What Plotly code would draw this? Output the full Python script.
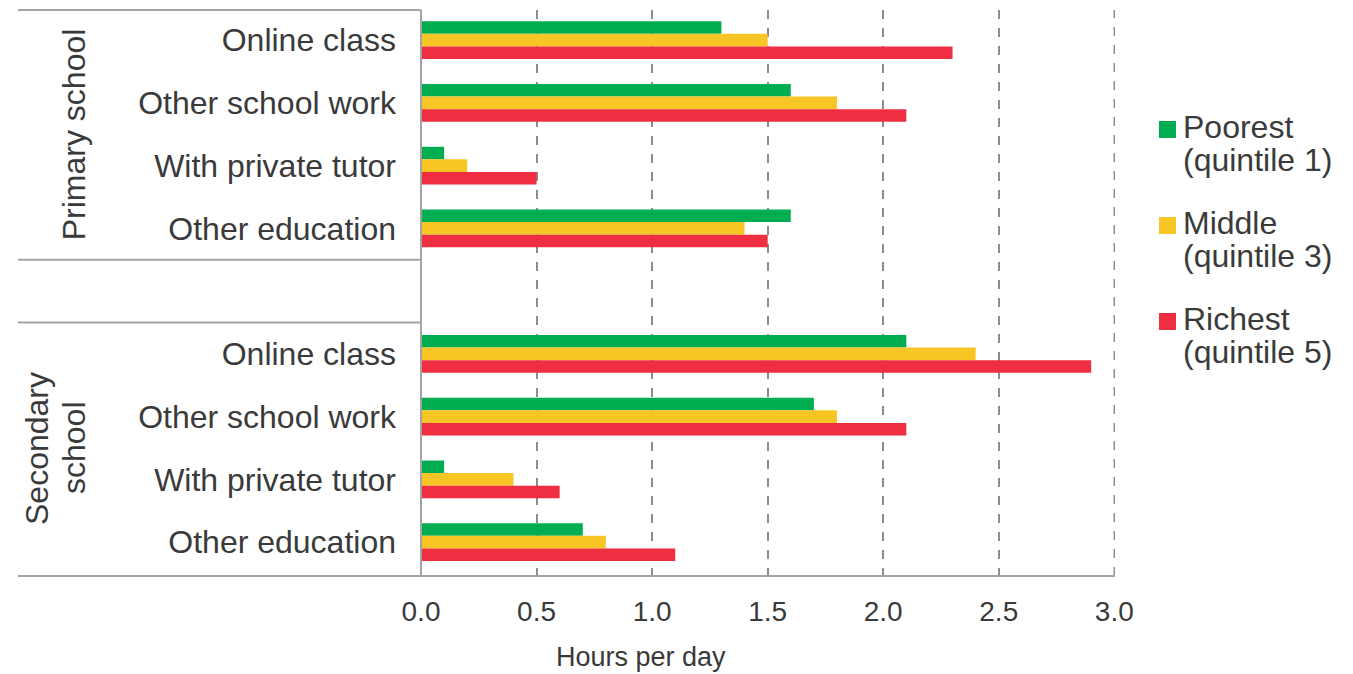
import plotly.graph_objects as go

# Time spent on learning activities, hours per day, by household wealth quintile
activities = ["Online class", "Other school work", "With private tutor", "Other education"]
level_primary = ["Primary school"]
level_secondary = ["Secondary", "school"]

quintile_names = ["Poorest", "Middle", "Richest"]
quintile_ranks = ["(quintile 1)", "(quintile 3)", "(quintile 5)"]
colors = ["#00ad50", "#f8c624", "#ef2e41"]

poorest_primary = [1.3, 1.6, 0.1, 1.6]
middle_primary = [1.5, 1.8, 0.2, 1.4]
richest_primary = [2.3, 2.1, 0.5, 1.5]

poorest_secondary = [2.1, 1.7, 0.1, 0.7]
middle_secondary = [2.4, 1.8, 0.4, 0.8]
richest_secondary = [2.9, 2.1, 0.6, 1.1]

x_ticks = [0.0, 0.5, 1.0, 1.5, 2.0, 2.5, 3.0]
x_title = "Hours per day"

# Row layout: four rows per school level with one empty row between them
primary_rows = [0, 1, 2, 3]
secondary_rows = [5, 6, 7, 8]
rows = primary_rows + secondary_rows
row_labels = activities + activities
y_top, y_bottom = -0.48, 8.54

series = [
    poorest_primary + poorest_secondary,
    middle_primary + middle_secondary,
    richest_primary + richest_secondary,
]

W, H = 1353, 674
M_L, M_R, M_T, M_B = 421, 238, 10, 98
PW, PH = W - M_L - M_R, H - M_T - M_B

LABEL_FONT = "Liberation Sans, Arial, sans-serif"
TEXT = "#3a3a3a"
RULE = "#a3a3a3"
GRID = "#8c8c8c"


def px(x):
    """Pixel column -> paper x."""
    return (x - M_L) / PW


def py(y):
    """Pixel row -> paper y."""
    return (H - M_B - y) / PH


def row_paper(r):
    """Row position on the y axis -> paper y."""
    return 1 - (r - y_top) / (y_bottom - y_top)


def label(text, x, y, size=32, angle=0, xanchor="center"):
    return dict(text=text, xref="paper", yref="paper", x=x, y=y,
                textangle=angle, showarrow=False, xanchor=xanchor,
                yanchor="middle", align="left",
                font=dict(family=LABEL_FONT, size=size, color=TEXT))


fig = go.Figure()
for name, rank, vals, col in zip(quintile_names, quintile_ranks, series, colors):
    fig.add_trace(go.Bar(
        x=vals, y=rows, orientation="h", name=f"{name} {rank}",
        marker=dict(color=col, line=dict(width=0)),
        showlegend=False,
    ))

shapes = []
left_edge = px(18)
# frame around the row labels
for yp in [1, row_paper(3.5), row_paper(4.5)]:
    shapes.append(dict(type="line", xref="paper", yref="paper", x0=left_edge, x1=0,
                       y0=yp, y1=yp, line=dict(color=RULE, width=2)))
shapes.append(dict(type="line", xref="paper", yref="paper", x0=left_edge, x1=1,
                   y0=0, y1=0, line=dict(color=RULE, width=2)))
shapes.append(dict(type="line", xref="paper", yref="paper", x0=0, x1=0,
                   y0=0, y1=1, line=dict(color=RULE, width=2)))
# closing dashed grid line at the last tick
shapes.append(dict(type="line", xref="x", yref="paper", x0=x_ticks[-1], x1=x_ticks[-1],
                   y0=0, y1=1, layer="below",
                   line=dict(color=GRID, width=1.5, dash="dash")))

annotations = []
# school level labels, rotated
annotations.append(label(level_primary[0], px(74), row_paper(1.5), angle=-90))
annotations.append(label(level_secondary[0], px(37), row_paper(6.5), angle=-90))
annotations.append(label(level_secondary[1], px(74), row_paper(6.5), angle=-90))

# axis title
annotations.append(label(x_title, px(641), py(657), size=27))

# legend: coloured squares with two-line names
for i, (name, rank, col) in enumerate(zip(quintile_names, quintile_ranks, colors)):
    top = 121 + i * 96
    shapes.append(dict(type="rect", xref="paper", yref="paper",
                       x0=px(1159), x1=px(1176), y0=py(top), y1=py(top + 17),
                       fillcolor=col, line=dict(width=0)))
    annotations.append(label(name, px(1181), py(top + 6), xanchor="left"))
    annotations.append(label(rank, px(1181), py(top + 39), xanchor="left"))

fig.update_layout(
    width=W, height=H,
    margin=dict(l=M_L, r=M_R, t=M_T, b=M_B),
    paper_bgcolor="white", plot_bgcolor="white",
    barmode="group", bargap=0.4, bargroupgap=0,
    shapes=shapes, annotations=annotations,
    showlegend=False,
    xaxis=dict(
        range=[0, 3.003], tickvals=x_ticks,
        ticktext=[f"{v:.1f}" for v in x_ticks],
        showgrid=True, gridcolor=GRID, griddash="dash", gridwidth=1.5,
        zeroline=False, showline=False, ticks="", ticklabelstandoff=16,
        tickfont=dict(family=LABEL_FONT, size=28, color=TEXT),
    ),
    yaxis=dict(
        range=[y_bottom, y_top], tickvals=rows, ticktext=row_labels,
        showgrid=False, zeroline=False, showline=False, ticks="",
        ticklabelstandoff=24,
        tickfont=dict(family=LABEL_FONT, size=32, color=TEXT),
    ),
)

fig.write_html("out.html")
